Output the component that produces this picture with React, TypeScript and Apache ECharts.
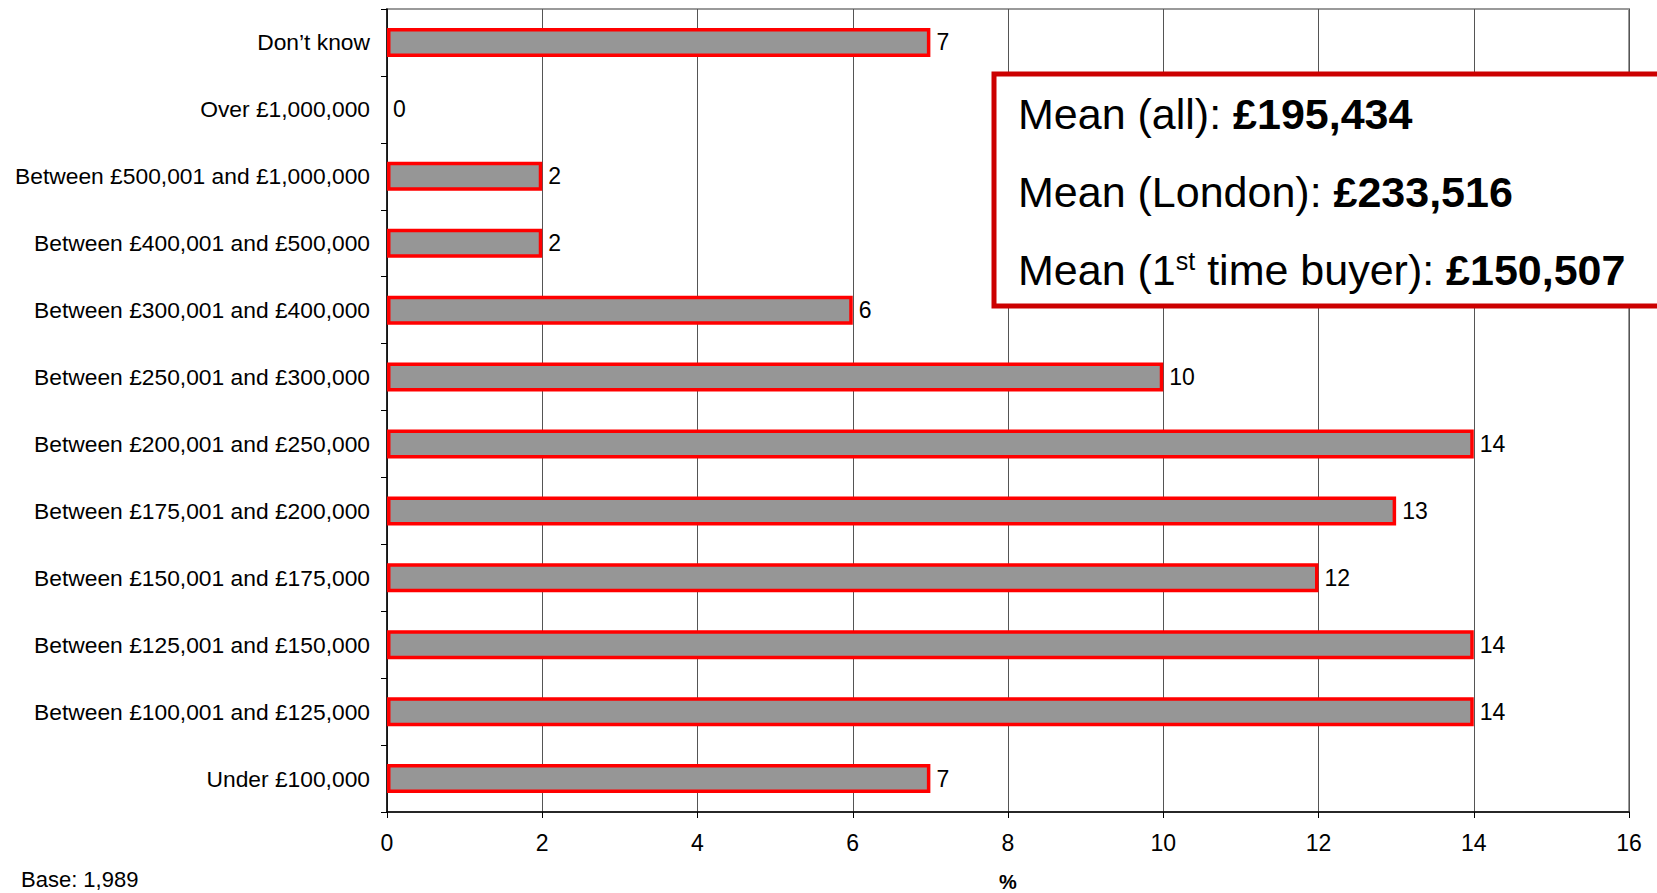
import React, { useEffect, useRef } from "react";
import * as echarts from "echarts";

// Price bands, listed bottom to top as drawn on the category axis
const categories = [
  "Under £100,000",
  "Between £100,001 and £125,000",
  "Between £125,001 and £150,000",
  "Between £150,001 and £175,000",
  "Between £175,001 and £200,000",
  "Between £200,001 and £250,000",
  "Between £250,001 and £300,000",
  "Between £300,001 and £400,000",
  "Between £400,001 and £500,000",
  "Between £500,001 and £1,000,000",
  "Over £1,000,000",
  "Don’t know",
];

// Share of respondents (%) in each band
const shares = [7, 14, 14, 12, 13, 14, 10, 6, 2, 2, 0, 7];

const xTicks = [0, 2, 4, 6, 8, 10, 12, 14, 16];

const meanAll = "£195,434";
const meanLondon = "£233,516";
const meanFirstTime = "£150,507";
const baseNote = "Base: 1,989";

const FONT = "'Liberation Sans', Arial, Helvetica, sans-serif";

export default function App() {
  const ref = useRef<HTMLDivElement>(null);

  useEffect(() => {
    if (!ref.current) return;
    const chart = echarts.init(ref.current, null, { renderer: "svg" });

    const boxX = 994;
    const boxY = 74;
    const lineX = 1018;
    const boxFont = 43;

    // a zero-width bar gets no outline
    const barData = shares.map((v) =>
      v === 0 ? { value: v, itemStyle: { borderWidth: 0 } } : { value: v }
    );

    chart.setOption({
      animation: false,
      textStyle: { fontFamily: FONT },
      grid: {
        left: 387,
        right: 28,
        top: 9,
        bottom: 81,
        containLabel: false,
        outerBoundsMode: "none",
        show: true,
        borderColor: "#9a9a9a",
        borderWidth: 2,
      },
      xAxis: {
        type: "value",
        min: xTicks[0],
        max: xTicks[xTicks.length - 1],
        interval: 2,
        name: "%",
        nameLocation: "middle",
        nameGap: 60,
        nameTextStyle: {
          fontSize: 20,
          lineHeight: 20,
          fontWeight: "bold",
          color: "#000",
          fontFamily: FONT,
        },
        axisLine: { show: true, lineStyle: { color: "#000", width: 1.5 } },
        axisTick: { show: true, length: 6, lineStyle: { color: "#000" } },
        axisLabel: { fontSize: 23, color: "#000", margin: 19, fontFamily: FONT },
        splitLine: { show: true, lineStyle: { color: "#555", width: 1 } },
      },
      yAxis: {
        type: "category",
        data: categories,
        axisLine: { show: true, lineStyle: { color: "#000", width: 1.5 } },
        axisTick: { show: true, length: 6, lineStyle: { color: "#000" } },
        axisLabel: { fontSize: 22.8, color: "#000", margin: 17, fontFamily: FONT },
        splitLine: { show: false },
      },
      series: [
        {
          type: "bar",
          data: barData,
          barWidth: 29,
          itemStyle: {
            color: "#969696",
            borderColor: "#ff0000",
            borderWidth: 3.5,
          },
          label: {
            show: true,
            position: "right",
            distance: 6,
            fontSize: 23,
            color: "#000",
            fontFamily: FONT,
          },
        },
      ],
      graphic: [
        {
          type: "rect",
          z: 100,
          shape: { x: boxX, y: boxY, width: 720, height: 232 },
          style: { fill: "#fff", stroke: "#cc0000", lineWidth: 5 },
        },
        {
          type: "text",
          z: 101,
          x: lineX,
          y: 114,
          style: {
            text: "Mean (all): {b|" + meanAll + "}",
            fontSize: boxFont,
            fontFamily: FONT,
            fill: "#000",
            verticalAlign: "middle",
            rich: { b: { fontSize: boxFont, fontWeight: "bold", fontFamily: FONT } },
          },
        },
        {
          type: "text",
          z: 101,
          x: lineX,
          y: 192,
          style: {
            text: "Mean (London): {b|" + meanLondon + "}",
            fontSize: boxFont,
            fontFamily: FONT,
            fill: "#000",
            verticalAlign: "middle",
            rich: { b: { fontSize: boxFont, fontWeight: "bold", fontFamily: FONT } },
          },
        },
        {
          type: "text",
          z: 101,
          x: lineX,
          y: 270,
          style: {
            text: "Mean (1{sup|st} time buyer): {b|" + meanFirstTime + "}",
            fontSize: boxFont,
            fontFamily: FONT,
            fill: "#000",
            verticalAlign: "middle",
            rich: {
              sup: { fontSize: 25, fontFamily: FONT, verticalAlign: "top", padding: [0, 0, 15, 0] },
              b: { fontSize: boxFont, fontWeight: "bold", fontFamily: FONT },
            },
          },
        },
        {
          type: "text",
          x: 21,
          y: 879,
          style: {
            text: baseNote,
            fontSize: 22,
            fontFamily: FONT,
            fill: "#000",
            verticalAlign: "middle",
          },
        },
      ],
    });

    return () => chart.dispose();
  }, []);

  return (
    <div
      ref={ref}
      style={{ position: "absolute", left: 0, top: 0, width: 1657, height: 893, background: "#fff" }}
    />
  );
}
